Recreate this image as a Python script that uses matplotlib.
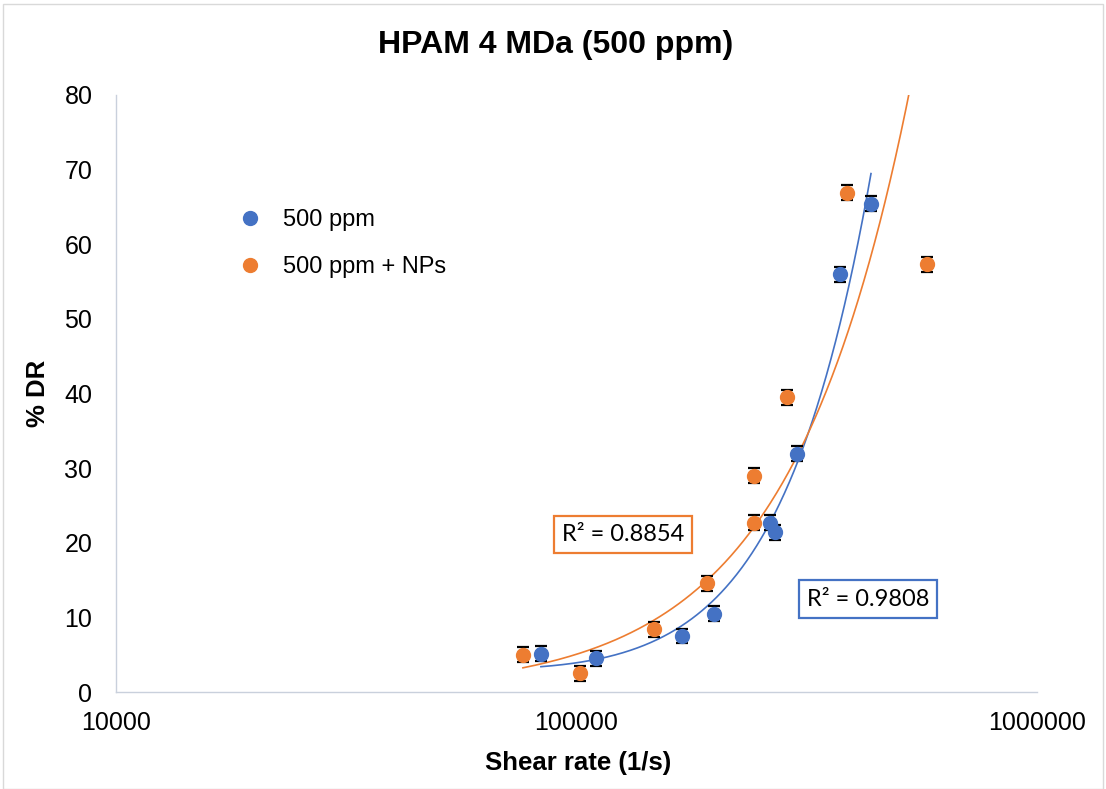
import numpy as np
import matplotlib.pyplot as plt
from matplotlib.patches import Rectangle

# shear rate (1/s) and drag reduction (%) for each solution
shear_500 = [83700, 110300, 169500, 199000, 263000, 270000, 301000, 373000, 436000]
dr_500 = [5.1, 4.5, 7.5, 10.5, 22.7, 21.4, 31.9, 56.0, 65.4]
shear_np = [76500, 101800, 147000, 192000, 243000, 243000, 286500, 386000, 576000]
dr_np = [5.0, 2.5, 8.4, 14.6, 29.0, 22.7, 39.5, 66.9, 57.3]
err = 1.0

labels = ['500 ppm', '500 ppm + NPs']
r2_labels = ['R² = 0.9808', 'R² = 0.8854']
blue = '#4472C4'
orange = '#ED7D31'

plt.rcParams['font.family'] = ['Liberation Sans', 'DejaVu Sans']

fig = plt.figure(figsize=(11.06, 7.89), dpi=100)
ax = fig.add_axes([116 / 1106, 1 - 692 / 789, (1037 - 116) / 1106, (692 - 95) / 789])

for x, y, c, lab in [(shear_500, dr_500, blue, labels[0]), (shear_np, dr_np, orange, labels[1])]:
    ax.errorbar(x, y, yerr=err, fmt='none', ecolor='black', elinewidth=0.8,
                capsize=4.3, capthick=1.6, zorder=2)
    ax.plot(x, y, 'o', color=c, markersize=10, label=lab, zorder=3)

# trendlines: 2nd order polynomial for 500 ppm, power law for the NPs series
xs = np.linspace(min(shear_500), max(shear_500), 300)
coef = np.polyfit(shear_500, dr_500, 2)
ax.plot(xs, np.polyval(coef, xs), color=blue, linewidth=1.2, zorder=1)

xs = np.linspace(min(shear_np), max(shear_np), 300)
b, lna = np.polyfit(np.log(shear_np), np.log(dr_np), 1)
ax.plot(xs, np.exp(lna) * xs ** b, color=orange, linewidth=1.2, zorder=1)

ax.set_xscale('log')
ax.set_xlim(10000, 1000000)
ax.set_ylim(0, 80)
ax.set_yticks(range(0, 81, 10))
ax.set_xticks([10000, 100000, 1000000])
ax.set_xticklabels(['10000', '100000', '1000000'])
ax.minorticks_off()
ax.tick_params(axis='both', length=0, labelsize=18)
ax.tick_params(axis='y', pad=17)
ax.tick_params(axis='x', pad=14)
for s in ['top', 'right']:
    ax.spines[s].set_visible(False)
for s in ['left', 'bottom']:
    ax.spines[s].set_color('#C9D0DC')
    ax.spines[s].set_linewidth(1)

fig.text(556 / 1106, 1 - 45 / 789, 'HPAM 4 MDa (500 ppm)', fontsize=23,
         fontweight='bold', ha='center', va='center')
fig.text(578 / 1106, 1 - 763 / 789, 'Shear rate (1/s)', fontsize=18.5,
         fontweight='bold', ha='center', va='center')
fig.text(38 / 1106, 1 - 393 / 789, '% DR', fontsize=18.5, fontweight='bold',
         ha='center', va='center', rotation=90)

fig.legend(loc='center left', bbox_to_anchor=(217 / 1106, 1 - 243.5 / 789),
           frameon=False, fontsize=17, handletextpad=0.4, labelspacing=1.07,
           borderaxespad=0)

fig.text(868 / 1106, 1 - 599 / 789, r2_labels[0], fontsize=17, family='Lato',
         ha='center', va='center',
         bbox=dict(boxstyle='square,pad=0.35', fc='white', ec=blue, lw=1.6))
fig.text(623 / 1106, 1 - 534.5 / 789, r2_labels[1], fontsize=17, family='Lato',
         ha='center', va='center',
         bbox=dict(boxstyle='square,pad=0.35', fc='white', ec=orange, lw=1.6))

fig.add_artist(Rectangle((3 / 1106, 0), 1100 / 1106, 1 - 4 / 789,
                         transform=fig.transFigure, fill=False,
                         ec='#D9D9D9', lw=1))

fig.savefig('out.png', dpi=100)
